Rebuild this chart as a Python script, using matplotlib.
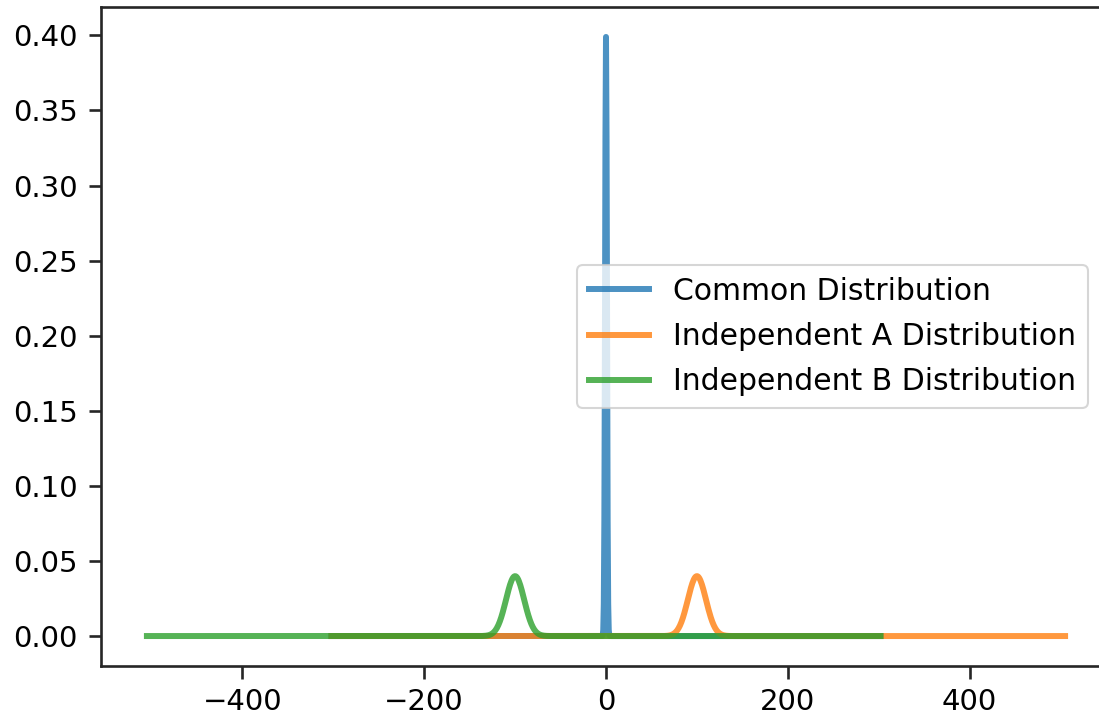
import numpy as np
import matplotlib
matplotlib.use("Agg")
import matplotlib.pyplot as plt

# Distribution parameters
labels = ["Common Distribution", "Independent A Distribution", "Independent B Distribution"]
means = [0.0, 100.0, -100.0]
stds = [1.0, 10.0, 10.0]
x_starts = [-302.0, -302.0, -505.0]
x_ends = [302.0, 505.0, 302.0]
n_points = 1001
colors = ["#1f77b4", "#ff7f0e", "#2ca02c"]
yticks = [0.0, 0.05, 0.10, 0.15, 0.20, 0.25, 0.30, 0.35, 0.40]
xticks = [-400, -200, 0, 200, 400]
xticklabels = ["\u2212400", "\u2212200", "0", "200", "400"]

fs = 21
fig = plt.figure(figsize=(10.99, 7.18), dpi=100)
ax = fig.add_axes([101/1099, 1 - 666/718, 1010/1099, 659/718])

for lab, m, s, a, b, c in zip(labels, means, stds, x_starts, x_ends, colors):
    x = np.linspace(a, b, n_points)
    # include the exact mean so the peak reaches its full height
    x = np.sort(np.unique(np.append(x, m)))
    y = np.exp(-0.5 * ((x - m) / s) ** 2) / (s * np.sqrt(2 * np.pi))
    ax.plot(x, y, color=c, alpha=0.8, lw=4.3, label=lab)

ax.set_yticks(yticks)
ax.set_xticks(xticks)
ax.set_xticklabels(xticklabels)
ax.tick_params(labelsize=fs, length=9, width=1.9, colors="#262626", labelcolor="black")
ax.tick_params(axis="y", pad=8)
ax.tick_params(axis="x", pad=6.5)
for sp in ax.spines.values():
    sp.set_linewidth(1.9)
    sp.set_color("#262626")
leg = ax.legend(loc="center right", bbox_to_anchor=(0.977, 0.5), borderaxespad=0,
                fontsize=21.5, handlelength=2.0, labelspacing=0.55, frameon=True)
leg.get_frame().set_linewidth(1.5)

fig.savefig("out.png", dpi=100)
